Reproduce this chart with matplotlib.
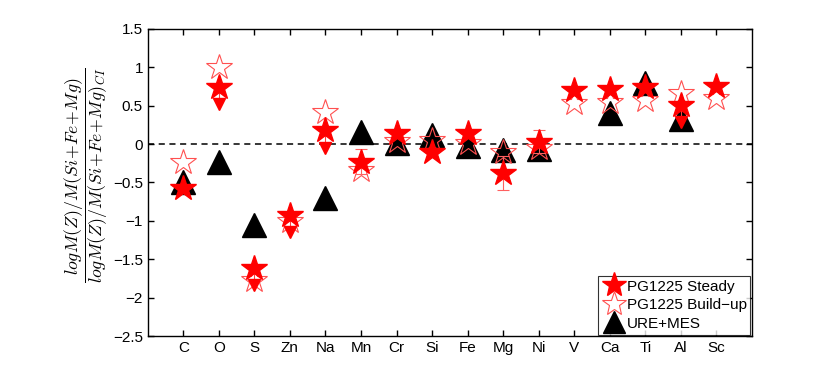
import numpy as np
import matplotlib
matplotlib.use('Agg')
import matplotlib.pyplot as plt

# ----------------- Data -----------------
elements = ['C', 'O', 'S', 'Zn', 'Na', 'Mn', 'Cr', 'Si', 'Fe', 'Mg', 'Ni',
            'V', 'Ca', 'Ti', 'Al', 'Sc']

steady = [-0.57, 0.75, -1.61, -0.92, 0.18, -0.23, 0.14, -0.10, 0.15, -0.38,
          0.03, 0.70, 0.72, 0.74, 0.51, 0.76]
steady_err = [0.0, 0.0, 0.0, 0.0, 0.0, 0.16, 0.0, 0.0, 0.0, 0.22,
              0.15, 0.0, 0.0, 0.0, 0.0, 0.0]
# upper limits: arrow tip value (nan = none)
steady_lim = [np.nan, 0.48, -1.87, -1.18, -0.09, np.nan, np.nan, np.nan, np.nan, np.nan,
              np.nan, np.nan, np.nan, np.nan, 0.25, np.nan]

buildup = [-0.23, 1.0, -1.77, -1.0, 0.42, -0.34, 0.04, 0.05, 0.02, -0.10,
           -0.05, 0.54, 0.55, 0.57, 0.66, 0.60]

ure_mes = [-0.49, -0.23, -1.05, np.nan, -0.70, 0.16, 0.01, 0.12, -0.02, -0.08,
           -0.06, np.nan, 0.40, 0.79, 0.33, np.nan]

yticks = [-2.5, -2, -1.5, -1, -0.5, 0, 0.5, 1, 1.5]
ytick_labels = ['\u22122.5', '\u22122', '\u22121.5', '\u22121', '\u22120.5', '0', '0.5', '1', '1.5']

# ----------------- Plot -----------------
plt.rcParams['font.family'] = ['Liberation Sans', 'DejaVu Sans']
plt.rcParams['mathtext.fontset'] = 'cm'

fig = plt.figure(figsize=(8.3, 3.81), dpi=100)
ax = fig.add_axes([0.178, 0.118, 0.728, 0.806])

x = np.arange(1, len(elements) + 1)
steady = np.array(steady)
steady_lim = np.array(steady_lim)

ax.axhline(0, color='black', ls='--', lw=1.1, dashes=(4, 3), zorder=1)

# URE+MES
ax.plot(x, ure_mes, ls='none', marker='^', ms=17, color='black',
        markeredgecolor='black', label='URE+MES', zorder=2)

# Build-up (hollow stars)
ax.plot(x, buildup, ls='none', marker='*', ms=19, markerfacecolor='none',
        markeredgecolor='#ff5050', markeredgewidth=0.8,
        label='PG1225 Build\u2212up', zorder=3)

# Steady error bars and upper limits
err = np.array(steady_err)
mask = err > 0
ax.errorbar(x[mask], steady[mask], yerr=err[mask], ls='none', color='#ff6060',
            lw=0.8, capsize=4, capthick=0.8, zorder=3)
lim = ~np.isnan(steady_lim)
ax.vlines(x[lim], steady_lim[lim], steady[lim], color='#ff4040', lw=0.8, zorder=3)
ax.plot(x[lim], steady_lim[lim] + 0.04, ls='none', marker='v', ms=8, color='red', zorder=4)

# Steady (filled stars)
ax.plot(x, steady, ls='none', marker='*', ms=19, color='red',
        markeredgecolor='red', label='PG1225 Steady', zorder=5)

ax.set_xlim(0, 17)
ax.set_ylim(-2.5, 1.5)
ax.set_xticks(x)
ax.set_xticklabels(elements, fontsize=11)
ax.set_yticks(yticks)
ax.set_yticklabels(ytick_labels, fontsize=11)
ax.tick_params(direction='in', length=4, top=True, right=True, width=1)
for s in ax.spines.values():
    s.set_linewidth(1)

fig.text(0.104, 0.54,
         r'$\dfrac{log M(Z)/M(Si\!+\!Fe\!+\!Mg)}{log M(Z)/M(Si\!+\!Fe\!+\!Mg)_{CI}}$',
         rotation=90, ha='center', va='center', fontsize=12.8)

handles, labels = ax.get_legend_handles_labels()
order = [2, 1, 0]
leg = ax.legend([handles[i] for i in order], [labels[i] for i in order],
                loc='lower right', fontsize=11, frameon=True, fancybox=False,
                edgecolor='black', handlelength=1.5, handletextpad=0.1,
                borderpad=0.25, labelspacing=0.3, borderaxespad=0.1,
                markerscale=0.95)
leg.get_frame().set_linewidth(0.8)

fig.savefig('out.png', dpi=100)
